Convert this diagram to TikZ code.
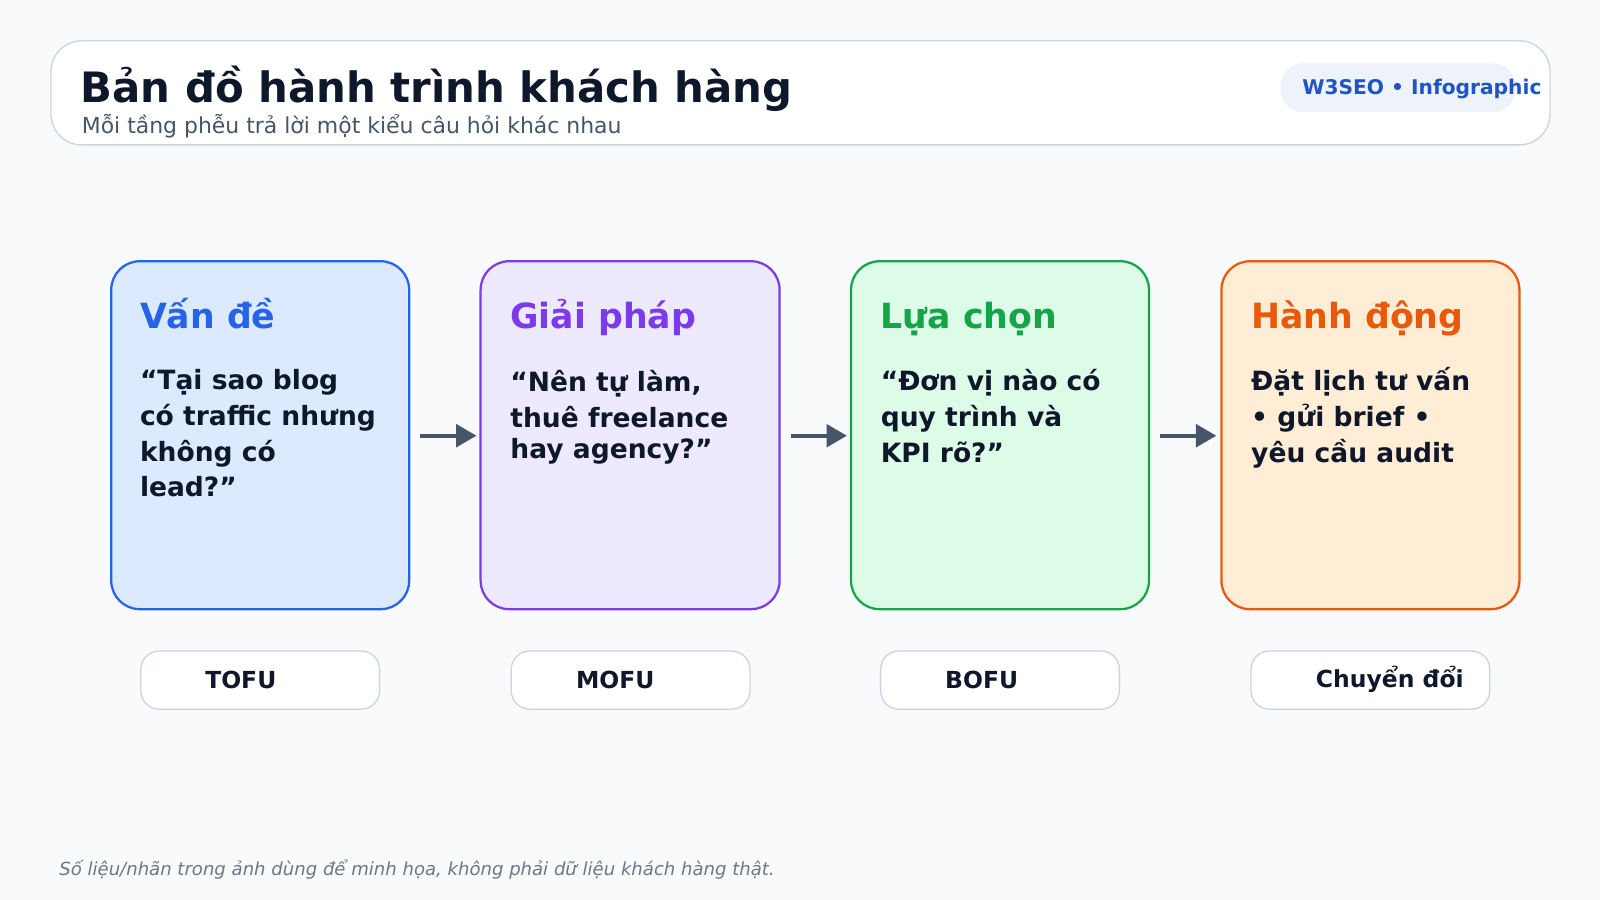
\documentclass[tikz,border=0pt]{standalone}
\usepackage{fontspec}
\setmainfont{DejaVu Sans}
\usetikzlibrary{arrows.meta}
\definecolor{bg}{HTML}{F8FAFC}
\definecolor{ink}{HTML}{0F172A}
\definecolor{grayl}{HTML}{CBD5E1}
\definecolor{sub}{HTML}{475569}
\definecolor{badgebg}{HTML}{EEF2F9}
\definecolor{cb}{HTML}{2563EB}\definecolor{fb}{HTML}{DBEAFE}
\definecolor{cp}{HTML}{7C3AED}\definecolor{fp}{HTML}{EDE9FE}
\definecolor{cg}{HTML}{16A34A}\definecolor{fg}{HTML}{DCFCE7}
\definecolor{co}{HTML}{EA580C}\definecolor{fo}{HTML}{FFEDD5}
\definecolor{arr}{HTML}{475569}
\begin{document}
\begin{tikzpicture}[x=1pt,y=-1pt,
  card/.style={line width=2.2pt,rounded corners=28pt},
  tag/.style={draw=grayl,fill=white,line width=1.3pt,rounded corners=18pt},
  head/.style={anchor=base west,inner sep=0,font=\bfseries\fontsize{34}{40}\selectfont},
  body/.style={anchor=base west,inner sep=0,align=left,text=ink,font=\bfseries\fontsize{26}{35}\selectfont},
  tagt/.style={inner sep=0,text=ink,font=\bfseries\fontsize{23}{28}\selectfont},
  link/.style={draw=arr,line width=4pt,-{Triangle[length=20pt,width=22pt]}}]
\fill[bg] (0,0) rectangle (1568,882);
\useasboundingbox (0,0) rectangle (1568,882);
\draw[grayl,fill=white,line width=1.3pt,rounded corners=30pt] (50,40) rectangle (1519,142);
\node[anchor=base west,inner sep=0,text=ink,font=\bfseries\fontsize{41}{48}\selectfont] (title) at (79,100) {Bản đồ hành trình khách hàng};
\node[anchor=base west,inner sep=0,text=sub,font=\fontsize{21.5}{26}\selectfont] (subt) at (80,131) {Mỗi tầng phễu trả lời một kiểu câu hỏi khác nhau};
\fill[badgebg,rounded corners=22pt] (1255,62) rectangle (1485,110);
\node[anchor=west,inner sep=0,text=cb!85!black,font=\bfseries\fontsize{19.8}{24}\selectfont] (badge) at (1276,87) {W3SEO • Infographic};
% cards
\draw[card,draw=cb,fill=fb] (109,256) rectangle (401,597);
\draw[card,draw=cp,fill=fp] (471,256) rectangle (764,597);
\draw[card,draw=cg,fill=fg] (834,256) rectangle (1126,597);
\draw[card,draw=co,fill=fo] (1197,256) rectangle (1489,597);
\node[head,text=cb] (h1) at (137,322) {Vấn đề};
\node[head,text=cp] (h2) at (500,322) {Giải pháp};
\node[head,text=cg] (h3) at (863,322) {Lựa chọn};
\node[head,text=co] (h4) at (1226,322) {Hành động};
\node[body] (b1) at (137,487) {“Tại sao blog\\có traffic nhưng\\không có\\lead?”};
\node[body] (b2) at (500,449) {“Nên tự làm,\\thuê freelance\\[-5pt]hay agency?”};
\node[body] (b3) at (863,453) {“Đơn vị nào có\\quy trình và\\KPI rõ?”};
\node[body] (b4) at (1226,453) {Đặt lịch tư vấn\\• gửi brief •\\yêu cầu audit};
% arrows
\coordinate (a1s) at (412,427); \coordinate (a1e) at (467,427);
\coordinate (a2s) at (775,427); \coordinate (a2e) at (830,427);
\coordinate (a3s) at (1137,427); \coordinate (a3e) at (1192,427);
\draw[link] (a1s) -- (a1e);
\draw[link] (a2s) -- (a2e);
\draw[link] (a3s) -- (a3e);
% tags
\draw[tag] (138,638) rectangle (372,695);
\draw[tag] (501,638) rectangle (735,695);
\draw[tag] (863,638) rectangle (1097,695);
\draw[tag] (1226,638) rectangle (1460,695);
\node[tagt] (t1) at (236,666) {TOFU};
\node[tagt] (t2) at (603,666) {MOFU};
\node[tagt] (t3) at (962,666) {BOFU};
\node[tagt] (t4) at (1362,666) {Chuyển đổi};
\node[anchor=base west,inner sep=0,text=sub!80,font=\itshape\fontsize{17.7}{20}\selectfont] (foot) at (58,858) {Số liệu/nhãn trong ảnh dùng để minh họa, không phải dữ liệu khách hàng thật.};
\end{tikzpicture}
\end{document}
